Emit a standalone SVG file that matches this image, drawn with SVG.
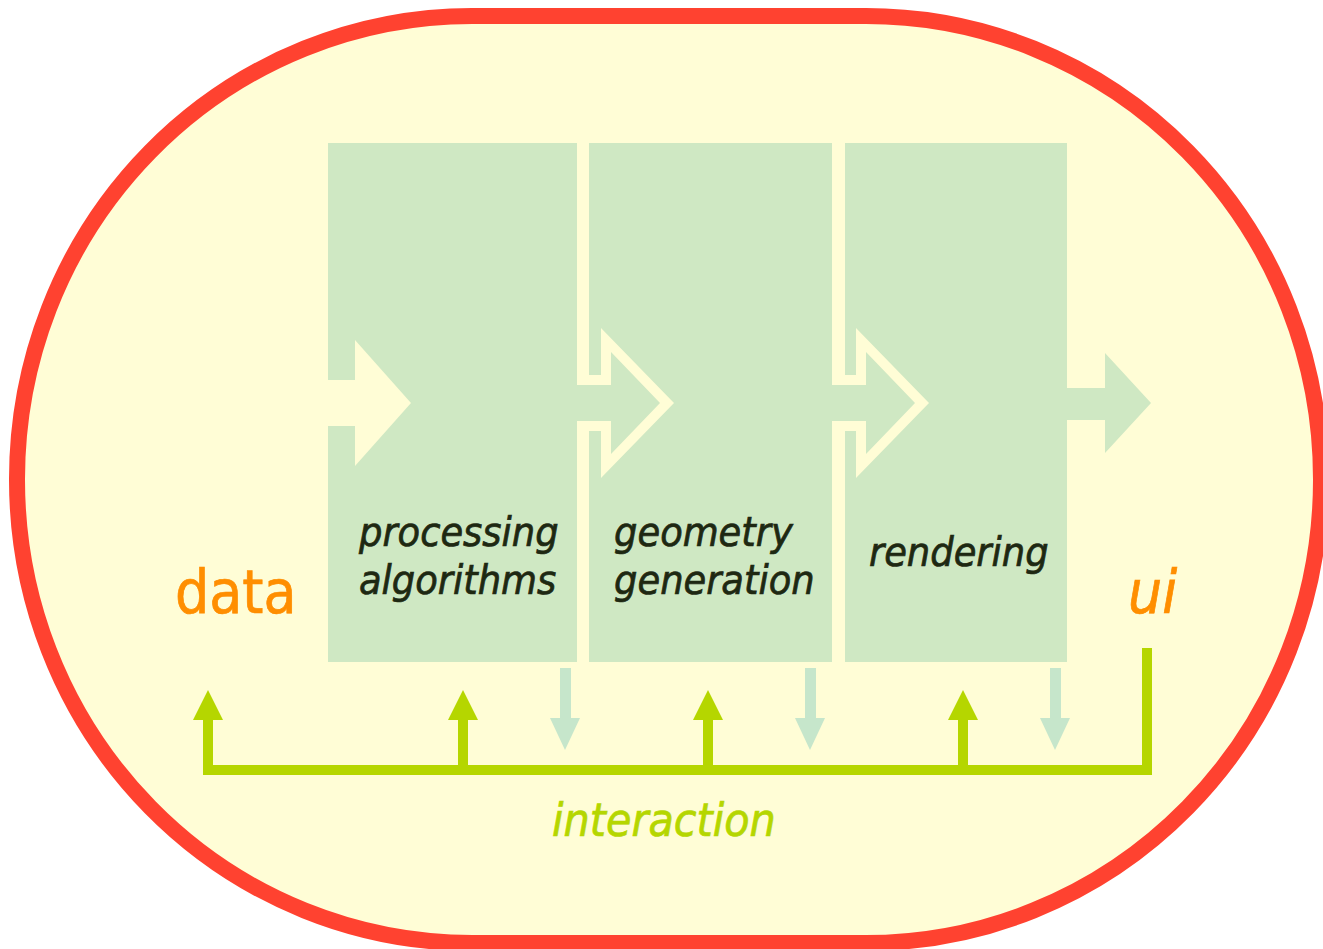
<svg xmlns="http://www.w3.org/2000/svg" width="1323" height="949" viewBox="0 0 1323 949">
  <style>
    .frame { fill: #FFFDD6; stroke: #FF4230; stroke-width: 16; }
    .stage { fill: #CFE8C3; }
    .notch { fill: #FFFDD6; }
    .flow { fill: #CFE8C3; }
    .drop { fill: #C6E6CB; }
    .bus { fill: none; stroke: #B5D600; stroke-width: 10; stroke-linejoin: miter; }
    .bushead { fill: #B5D600; }
    text { font-family: "DejaVu Sans Condensed", "DejaVu Sans", Verdana, sans-serif; font-stretch: condensed; stroke-width: 0.7px; }
    .lbl { font-style: italic; font-size: 41px; fill: #1E2812; stroke: #1E2812; }
    .end { font-size: 60px; fill: #FF8E00; stroke: #FF8E00; }
    .ia { font-style: italic; font-size: 46px; fill: #B5D600; stroke: #B5D600; }
  </style>

  <!-- rounded frame -->
  <rect class="frame" x="17" y="16" width="1304" height="927" rx="455" ry="463"/>

  <!-- pipeline stages -->
  <g id="stage-processing">
    <rect class="stage" x="328" y="143" width="249" height="519"/>
    <text class="lbl" x="359" y="546">processing</text>
    <text class="lbl" x="359" y="594">algorithms</text>
  </g>
  <g id="stage-geometry">
    <rect class="stage" x="589" y="143" width="243" height="519"/>
    <text class="lbl" x="614" y="546">geometry</text>
    <text class="lbl" x="614" y="594">generation</text>
  </g>
  <g id="stage-rendering">
    <rect class="stage" x="845" y="143" width="222" height="519"/>
    <text class="lbl" x="869" y="566">rendering</text>
  </g>

  <g id="source-data">
    <text class="end" x="175" y="613">data</text>
  </g>
  <g id="sink-ui">
    <text class="end" x="1128" y="613" font-style="italic">ui</text>
  </g>
  <g id="interaction">
    <text class="ia" x="552" y="836">interaction</text>
  </g>

  <g id="connectors">
    <!-- data enters the first stage -->
    <polygon class="notch" points="320,380 355,380 355,340 411,403 355,466 355,426 320,426"/>
    <!-- stage to stage hand-offs -->
    <polygon class="notch" points="577,375 601,375 601,328 674,403 601,478 601,431 577,431"/>
    <polygon class="flow" points="570,385 611,385 611,352 660,403 611,454 611,421 570,421"/>
    <polygon class="notch" points="832,375 856,375 856,328 929,403 856,478 856,431 832,431"/>
    <polygon class="flow" points="825,385 866,385 866,352 915,403 866,454 866,421 825,421"/>
    <!-- output to ui -->
    <polygon class="flow" points="1060,388 1105,388 1105,353 1151,403 1105,453 1105,420 1060,420"/>

    <!-- stage outputs dropping to the interaction bus -->
    <polygon class="drop" points="560,668 571,668 571,718 580,718 565,750 550,718 560,718"/>
    <polygon class="drop" points="805,668 816,668 816,718 825,718 810,750 795,718 805,718"/>
    <polygon class="drop" points="1050,668 1061,668 1061,718 1070,718 1055,750 1040,718 1050,718"/>

    <!-- interaction bus -->
    <path class="bus" d="M208,720 V770 H1147 V648"/>
    <path class="bus" d="M463,770 V718 M708,770 V718 M963,770 V718"/>
    <polygon class="bushead" points="193,720 208,690 223,720"/>
    <polygon class="bushead" points="448,720 463,690 478,720"/>
    <polygon class="bushead" points="693,720 708,690 723,720"/>
    <polygon class="bushead" points="948,720 963,690 978,720"/>
  </g>
</svg>
